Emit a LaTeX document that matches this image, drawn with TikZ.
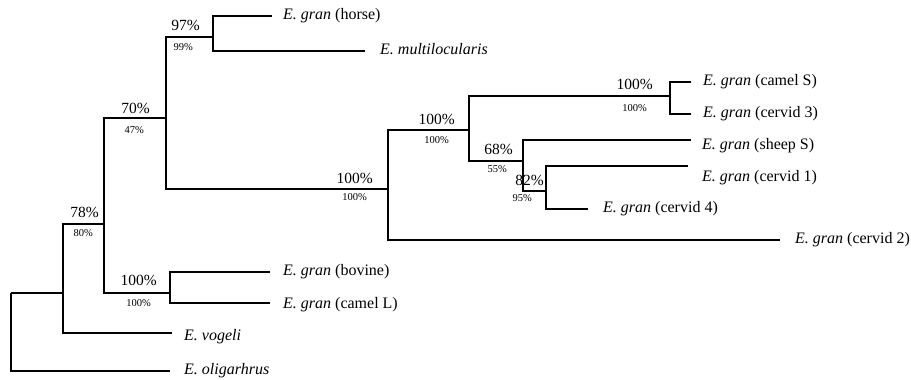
\documentclass[tikz,border=0pt]{standalone}
\usepackage{fontspec}
\setmainfont{Liberation Serif}
\usetikzlibrary{positioning}

\begin{document}
\begin{tikzpicture}[x=1pt,y=-1pt,
  branch/.style={line width=1.4pt},
  leaf/.style={inner sep=0pt,text height=11pt,text depth=3.5pt,font=\fontsize{16}{18}\selectfont},
  bigpct/.style={inner sep=0pt,font=\fontsize{15.5}{17}\selectfont},
  smallpct/.style={inner sep=0pt,font=\fontsize{10.5}{12}\selectfont}]
  \useasboundingbox (0,0) rectangle (911,380);

  % internal nodes (x of the vertical bar, y of the incoming stem)
  \coordinate (root)   at (11,293);
  \coordinate (nVog)   at (63,293);
  \coordinate (n78)    at (104,224);
  \coordinate (n70)    at (166,118);
  \coordinate (n97)    at (213,37);
  \coordinate (nMain)  at (388,189);
  \coordinate (nUp)    at (469,130);
  \coordinate (nCamel) at (670,96);
  \coordinate (n68)    at (523,161);
  \coordinate (n82)    at (546,191);
  \coordinate (nBov)   at (170,293);

  % leaf ends
  \coordinate (horse)   at (272,16);
  \coordinate (multi)   at (365,51);
  \coordinate (camelS)  at (691,82);
  \coordinate (cervid3) at (691,114);
  \coordinate (sheepS)  at (691,140);
  \coordinate (cervid1) at (688,166);
  \coordinate (cervid4) at (588,209);
  \coordinate (cervid2) at (780,240);
  \coordinate (bovine)  at (270,272);
  \coordinate (camelL)  at (270,303);
  \coordinate (vogeli)  at (172,333);
  \coordinate (oligo)   at (170,371);

  % branches
  \draw[branch] (root) |- (nVog) (root) |- (oligo);
  \draw[branch] (nVog) |- (n78) (nVog) |- (vogeli);
  \draw[branch] (n78) |- (n70) (n78) |- (nBov);
  \draw[branch] (n70) |- (n97) (n70) |- (nMain);
  \draw[branch] (n97) |- (horse) (n97) |- (multi);
  \draw[branch] (nMain) |- (nUp) (nMain) |- (cervid2);
  \draw[branch] (nUp) |- (nCamel) (nUp) |- (n68);
  \draw[branch] (nCamel) |- (camelS) (nCamel) |- (cervid3);
  \draw[branch] (n68) |- (sheepS) (n68) |- (n82);
  \draw[branch] (n82) |- (cervid1) (n82) |- (cervid4);
  \draw[branch] (nBov) |- (bovine) (nBov) |- (camelL);

  % leaf labels
  \node[leaf,right=11pt of horse]   (horseLab)   {\emph{E. gran} (horse)};
  \node[leaf,right=15pt of multi]   (multiLab)   {\emph{E. multilocularis}};
  \node[leaf,right=12pt of camelS]  (camelSLab)  {\emph{E. gran} (camel S)};
  \node[leaf,right=12pt of cervid3] (cervid3Lab) {\emph{E. gran} (cervid 3)};
  \node[leaf,right=11pt of sheepS,yshift=-6pt]   (sheepSLab)  {\emph{E. gran} (sheep S)};
  \node[leaf,right=14pt of cervid1,yshift=-12pt] (cervid1Lab) {\emph{E. gran} (cervid 1)};
  \node[leaf,right=15pt of cervid4] (cervid4Lab) {\emph{E. gran} (cervid 4)};
  \node[leaf,right=15pt of cervid2] (cervid2Lab) {\emph{E. gran} (cervid 2)};
  \node[leaf,right=13pt of bovine]  (bovineLab)  {\emph{E. gran} (bovine)};
  \node[leaf,right=13pt of camelL,yshift=-2pt]   (camelLLab)  {\emph{E. gran} (camel L)};
  \node[leaf,right=12pt of vogeli,yshift=-4pt]   (vogeliLab)  {\emph{E. vogeli}};
  \node[leaf,right=14pt of oligo]   (oligoLab)   {\emph{E. oligarhrus}};

  % support values: upper and lower figure at each node
  \node[bigpct,above left=6pt and 5pt of n78]    (b78)    {78\%};
  \node[smallpct,below left=5pt and 11pt of n78] (s78)    {80\%};
  \node[bigpct,above left=4pt and 16pt of n70]   (b70)    {70\%};
  \node[smallpct,below left=8pt and 22pt of n70] (s70)    {47\%};
  \node[bigpct,above left=6pt and 13pt of n97]   (b97)    {97\%};
  \node[smallpct,below left=6pt and 20pt of n97] (s97)    {99\%};
  \node[bigpct,above left=5pt and 15pt of nMain]   (bMain) {100\%};
  \node[smallpct,below left=4pt and 21pt of nMain] (sMain) {100\%};
  \node[bigpct,above left=5pt and 14pt of nUp]     (bUp)   {100\%};
  \node[smallpct,below left=6pt and 20pt of nUp]   (sUp)   {100\%};
  \node[bigpct,above left=6pt and 17pt of nCamel]   (bCamel) {100\%};
  \node[smallpct,below left=8pt and 23pt of nCamel] (sCamel) {100\%};
  \node[bigpct,above left=6pt and 10pt of n68]   (b68)    {68\%};
  \node[smallpct,below left=4pt and 16pt of n68] (s68)    {55\%};
  \node[bigpct,above left=5pt and 2pt of n82]    (b82)    {82\%};
  \node[smallpct,below left=3pt and 14pt of n82] (s82)    {95\%};
  \node[bigpct,above left=7pt and 13pt of nBov]   (bBov)  {100\%};
  \node[smallpct,below left=6pt and 19pt of nBov] (sBov)  {100\%};
\end{tikzpicture}
\end{document}
